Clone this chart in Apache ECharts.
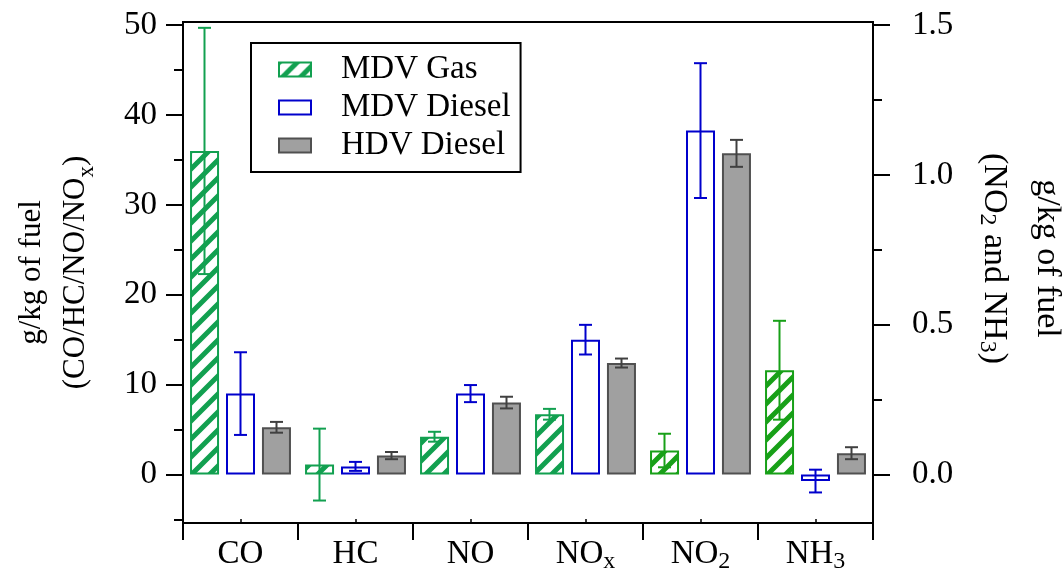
<!DOCTYPE html>
<html><head><meta charset="utf-8">
<script src="https://cdn.jsdelivr.net/npm/echarts@6/dist/echarts.min.js"></script>
<style>html,body{margin:0;padding:0;background:#fff}#c{width:1063px;height:571px}</style>
</head><body><div id="c"></div>
<script>
// ---- data ----
const categories = ['CO', 'HC', 'NO', 'NO_x', 'NO_2', 'NH_3'];
const seriesNames = ['MDV Gas', 'MDV Diesel', 'HDV Diesel'];
// left axis: g/kg of fuel for CO, HC, NO, NOx
const mdvGasLeft = [36.0, 1.1, 4.2, 6.7];
const mdvGasLeftErr = [13.7, 4.0, 0.55, 0.6];
const mdvDieselLeft = [9.0, 0.9, 9.0, 15.0];
const mdvDieselLeftErr = [4.6, 0.5, 0.95, 1.65];
const hdvDieselLeft = [5.25, 2.1, 8.0, 12.4];
const hdvDieselLeftErr = [0.6, 0.4, 0.65, 0.5];
// right axis: g/kg of fuel for NO2, NH3
const mdvGasRight = [0.08, 0.348];
const mdvGasRightErr = [0.056, 0.165];
const mdvDieselRight = [1.148, -0.022];
const mdvDieselRightErr = [0.225, 0.038];
const hdvDieselRight = [1.072, 0.071];
const hdvDieselRightErr = [0.045, 0.02];
// axis ticks
const leftTicks = [0, 10, 20, 30, 40, 50];
const leftMinorTicks = [-5, 5, 15, 25, 35, 45];
const rightTicks = [0, 0.5, 1.0, 1.5];
const rightMinorTicks = [0.25, 0.75, 1.25];
const leftRange = [-5.4, 50.35];
const rightRange = [-0.162, 1.5105];

// ---- styles ----
const FONT = 'Liberation Serif';
const GREEN_L = '#12a050';
const GREEN_R = '#18a018';
const BLUE = '#0000cc';
const GRAY_FILL = '#a0a0a0';
const GRAY_EDGE = '#505050';
const GRAY_ERR = '#404040';
const BAR_W = 29, BAR_STEP = 36, CAP = 13;

function makeHatch(color) {
  const s = 18;
  const c = document.createElement('canvas');
  c.width = s; c.height = s;
  const ctx = c.getContext('2d');
  ctx.fillStyle = '#fff'; ctx.fillRect(0, 0, s, s);
  ctx.strokeStyle = color; ctx.lineWidth = 5;
  ctx.beginPath();
  ctx.moveTo(-s / 2, s / 2); ctx.lineTo(s / 2, -s / 2);
  ctx.moveTo(-2, s + 2); ctx.lineTo(s + 2, -2);
  ctx.moveTo(s / 2, s * 1.5); ctx.lineTo(s * 1.5, s / 2);
  ctx.stroke();
  return c;
}
const hatchL = { image: makeHatch(GREEN_L), repeat: 'repeat' };
const hatchR = { image: makeHatch(GREEN_R), repeat: 'repeat' };

const rich = {
  n: { fontFamily: FONT, fontSize: 33, color: '#000', lineHeight: 40 },
  s: { fontFamily: FONT, fontSize: 24, color: '#000', lineHeight: 24, verticalAlign: 'bottom' }
};
function fmtCat(v) {
  const p = v.split('_');
  return p.length > 1 ? '{n|' + p[0] + '}{s|' + p[1] + '}' : '{n|' + p[0] + '}';
}

const pad = n => Array(n).fill(null);
const nL = mdvGasLeft.length;
const nR = mdvGasRight.length;

const leftVals = [mdvGasLeft, mdvDieselLeft, hdvDieselLeft];
const leftErrs = [mdvGasLeftErr, mdvDieselLeftErr, hdvDieselLeftErr];
const rightVals = [mdvGasRight, mdvDieselRight, hdvDieselRight];
const rightErrs = [mdvGasRightErr, mdvDieselRightErr, hdvDieselRightErr];

const styleL = [
  { color: hatchL, borderColor: GREEN_L, borderWidth: 2 },
  { color: '#fff', borderColor: BLUE, borderWidth: 2 },
  { color: GRAY_FILL, borderColor: GRAY_EDGE, borderWidth: 2 }
];
const styleR = [
  { color: hatchR, borderColor: GREEN_R, borderWidth: 2 },
  { color: '#fff', borderColor: BLUE, borderWidth: 2 },
  { color: GRAY_FILL, borderColor: GRAY_EDGE, borderWidth: 2 }
];
const errColL = [GREEN_L, BLUE, GRAY_ERR];
const errColR = [GREEN_R, BLUE, GRAY_ERR];

const series = [];
for (let k = 0; k < 3; k++) {
  series.push({
    type: 'bar', name: seriesNames[k], xAxisIndex: 0, yAxisIndex: 0,
    barWidth: BAR_W, barGap: '24%', z: 2,
    itemStyle: styleL[k],
    data: leftVals[k].concat(pad(nR))
  });
}
for (let k = 0; k < 3; k++) {
  series.push({
    type: 'bar', name: seriesNames[k], xAxisIndex: 1, yAxisIndex: 1,
    barWidth: BAR_W, barGap: '24%', z: 2,
    itemStyle: styleR[k],
    data: pad(nL).concat(rightVals[k])
  });
}

function errRenderer(colors) {
  return function (params, api) {
    const cat = api.value(0), v = api.value(1), e = api.value(2), k = api.value(3);
    const hi = api.coord([cat, v + e]);
    const lo = api.coord([cat, v - e]);
    const x = hi[0] + (k - 1) * BAR_STEP;
    const w = CAP / 2;
    const st = { stroke: colors[k], lineWidth: 2 };
    return {
      type: 'group', children: [
        { type: 'line', shape: { x1: x, y1: hi[1], x2: x, y2: lo[1] }, style: st },
        { type: 'line', shape: { x1: x - w, y1: hi[1], x2: x + w, y2: hi[1] }, style: st },
        { type: 'line', shape: { x1: x - w, y1: lo[1], x2: x + w, y2: lo[1] }, style: st }
      ]
    };
  };
}
const errL = [], errR = [];
for (let k = 0; k < 3; k++) {
  leftVals[k].forEach((v, i) => errL.push([i, v, leftErrs[k][i], k]));
  rightVals[k].forEach((v, i) => errR.push([nL + i, v, rightErrs[k][i], k]));
}
series.push({ type: 'custom', name: 'errL', xAxisIndex: 0, yAxisIndex: 0, z: 5,
  renderItem: errRenderer(errColL), encode: { x: 0, y: 1 }, data: errL });
series.push({ type: 'custom', name: 'errR', xAxisIndex: 1, yAxisIndex: 1, z: 5,
  renderItem: errRenderer(errColR), encode: { x: 0, y: 1 }, data: errR });

const lineStyle = { color: '#000', width: 2 };
const labelBase = { fontFamily: FONT, fontSize: 33, color: '#000' };

const option = {
  animation: false,
  backgroundColor: '#fff',
  grid: { left: 183, right: 190, top: 22, bottom: 48, containLabel: false, outerBoundsMode: 'none',
    show: true, borderColor: '#000', borderWidth: 2, backgroundColor: 'transparent' },
  legend: {
    data: seriesNames, orient: 'vertical', left: 251, top: 43,
    padding: [10, 10, 10, 27], itemGap: 5, itemWidth: 32, itemHeight: 14, icon: 'rect',
    borderColor: '#000', borderWidth: 2, selectedMode: false,
    textStyle: { fontFamily: FONT, fontSize: 33, color: '#000', padding: [0, 0, 0, 25] }
  },
  xAxis: [
    {
      type: 'category', data: categories, position: 'bottom', boundaryGap: true,
      axisLine: { show: true, onZero: false, lineStyle },
      axisTick: { show: true, length: 17, inside: false, interval: 0, alignWithLabel: false, lineStyle },
      axisLabel: { interval: 0, margin: 11, formatter: fmtCat, rich, ...labelBase },
      splitLine: { show: false }
    },
    {
      type: 'category', data: categories, position: 'bottom', boundaryGap: true,
      axisLine: { show: false, onZero: false },
      axisTick: { show: true, length: 4, inside: true, interval: 0, alignWithLabel: true, lineStyle: { color: '#000', width: 1.5 } },
      axisLabel: { show: false },
      splitLine: { show: false }
    }
  ],
  yAxis: [
    {
      type: 'value', position: 'left', min: leftRange[0], max: leftRange[1],
      name: '{n|g/kg of fuel}\n{n|(CO/HC/NO/NO}{s|x}{n|)}',
      nameLocation: 'middle', nameRotate: 90, nameGap: 85,
      nameTextStyle: { ...labelBase, rich: {
        n: { fontFamily: FONT, fontSize: 31, color: '#000', lineHeight: 44 },
        s: { fontFamily: FONT, fontSize: 23, color: '#000', lineHeight: 23, verticalAlign: 'bottom' } } },
      axisLine: { show: true, lineStyle },
      axisTick: { show: true, length: 17, customValues: leftTicks, lineStyle },
      axisLabel: { customValues: leftTicks, margin: 26, ...labelBase },
      splitLine: { show: false }
    },
    {
      type: 'value', position: 'right', min: rightRange[0], max: rightRange[1],
      name: '{n|g/kg of fuel}\n{n|(NO}{s|2}{n| and NH}{s|3}{n|)}',
      nameLocation: 'middle', nameRotate: -90, nameGap: 94,
      nameTextStyle: { ...labelBase, padding: [0, 28, 0, 0], rich: {
        n: { fontFamily: FONT, fontSize: 34, color: '#000', lineHeight: 53 },
        s: { fontFamily: FONT, fontSize: 24, color: '#000', lineHeight: 24, verticalAlign: 'bottom', padding: [0, 0, 8, 0] } } },
      axisLine: { show: true, lineStyle },
      axisTick: { show: true, length: 17, customValues: rightTicks, lineStyle },
      axisLabel: { customValues: rightTicks, margin: 39, formatter: v => v.toFixed(1), ...labelBase },
      splitLine: { show: false }
    },
    {
      type: 'value', position: 'left', min: leftRange[0], max: leftRange[1],
      axisLine: { show: false },
      axisTick: { show: true, length: 9, customValues: leftMinorTicks, lineStyle },
      axisLabel: { show: false },
      splitLine: { show: false }
    },
    {
      type: 'value', position: 'right', min: rightRange[0], max: rightRange[1],
      axisLine: { show: false },
      axisTick: { show: true, length: 9, customValues: rightMinorTicks, lineStyle },
      axisLabel: { show: false },
      splitLine: { show: false }
    }
  ],
  series
};
const chart = echarts.init(document.getElementById('c'), null, { renderer: 'canvas' });
chart.setOption(option);
</script>
</body></html>
